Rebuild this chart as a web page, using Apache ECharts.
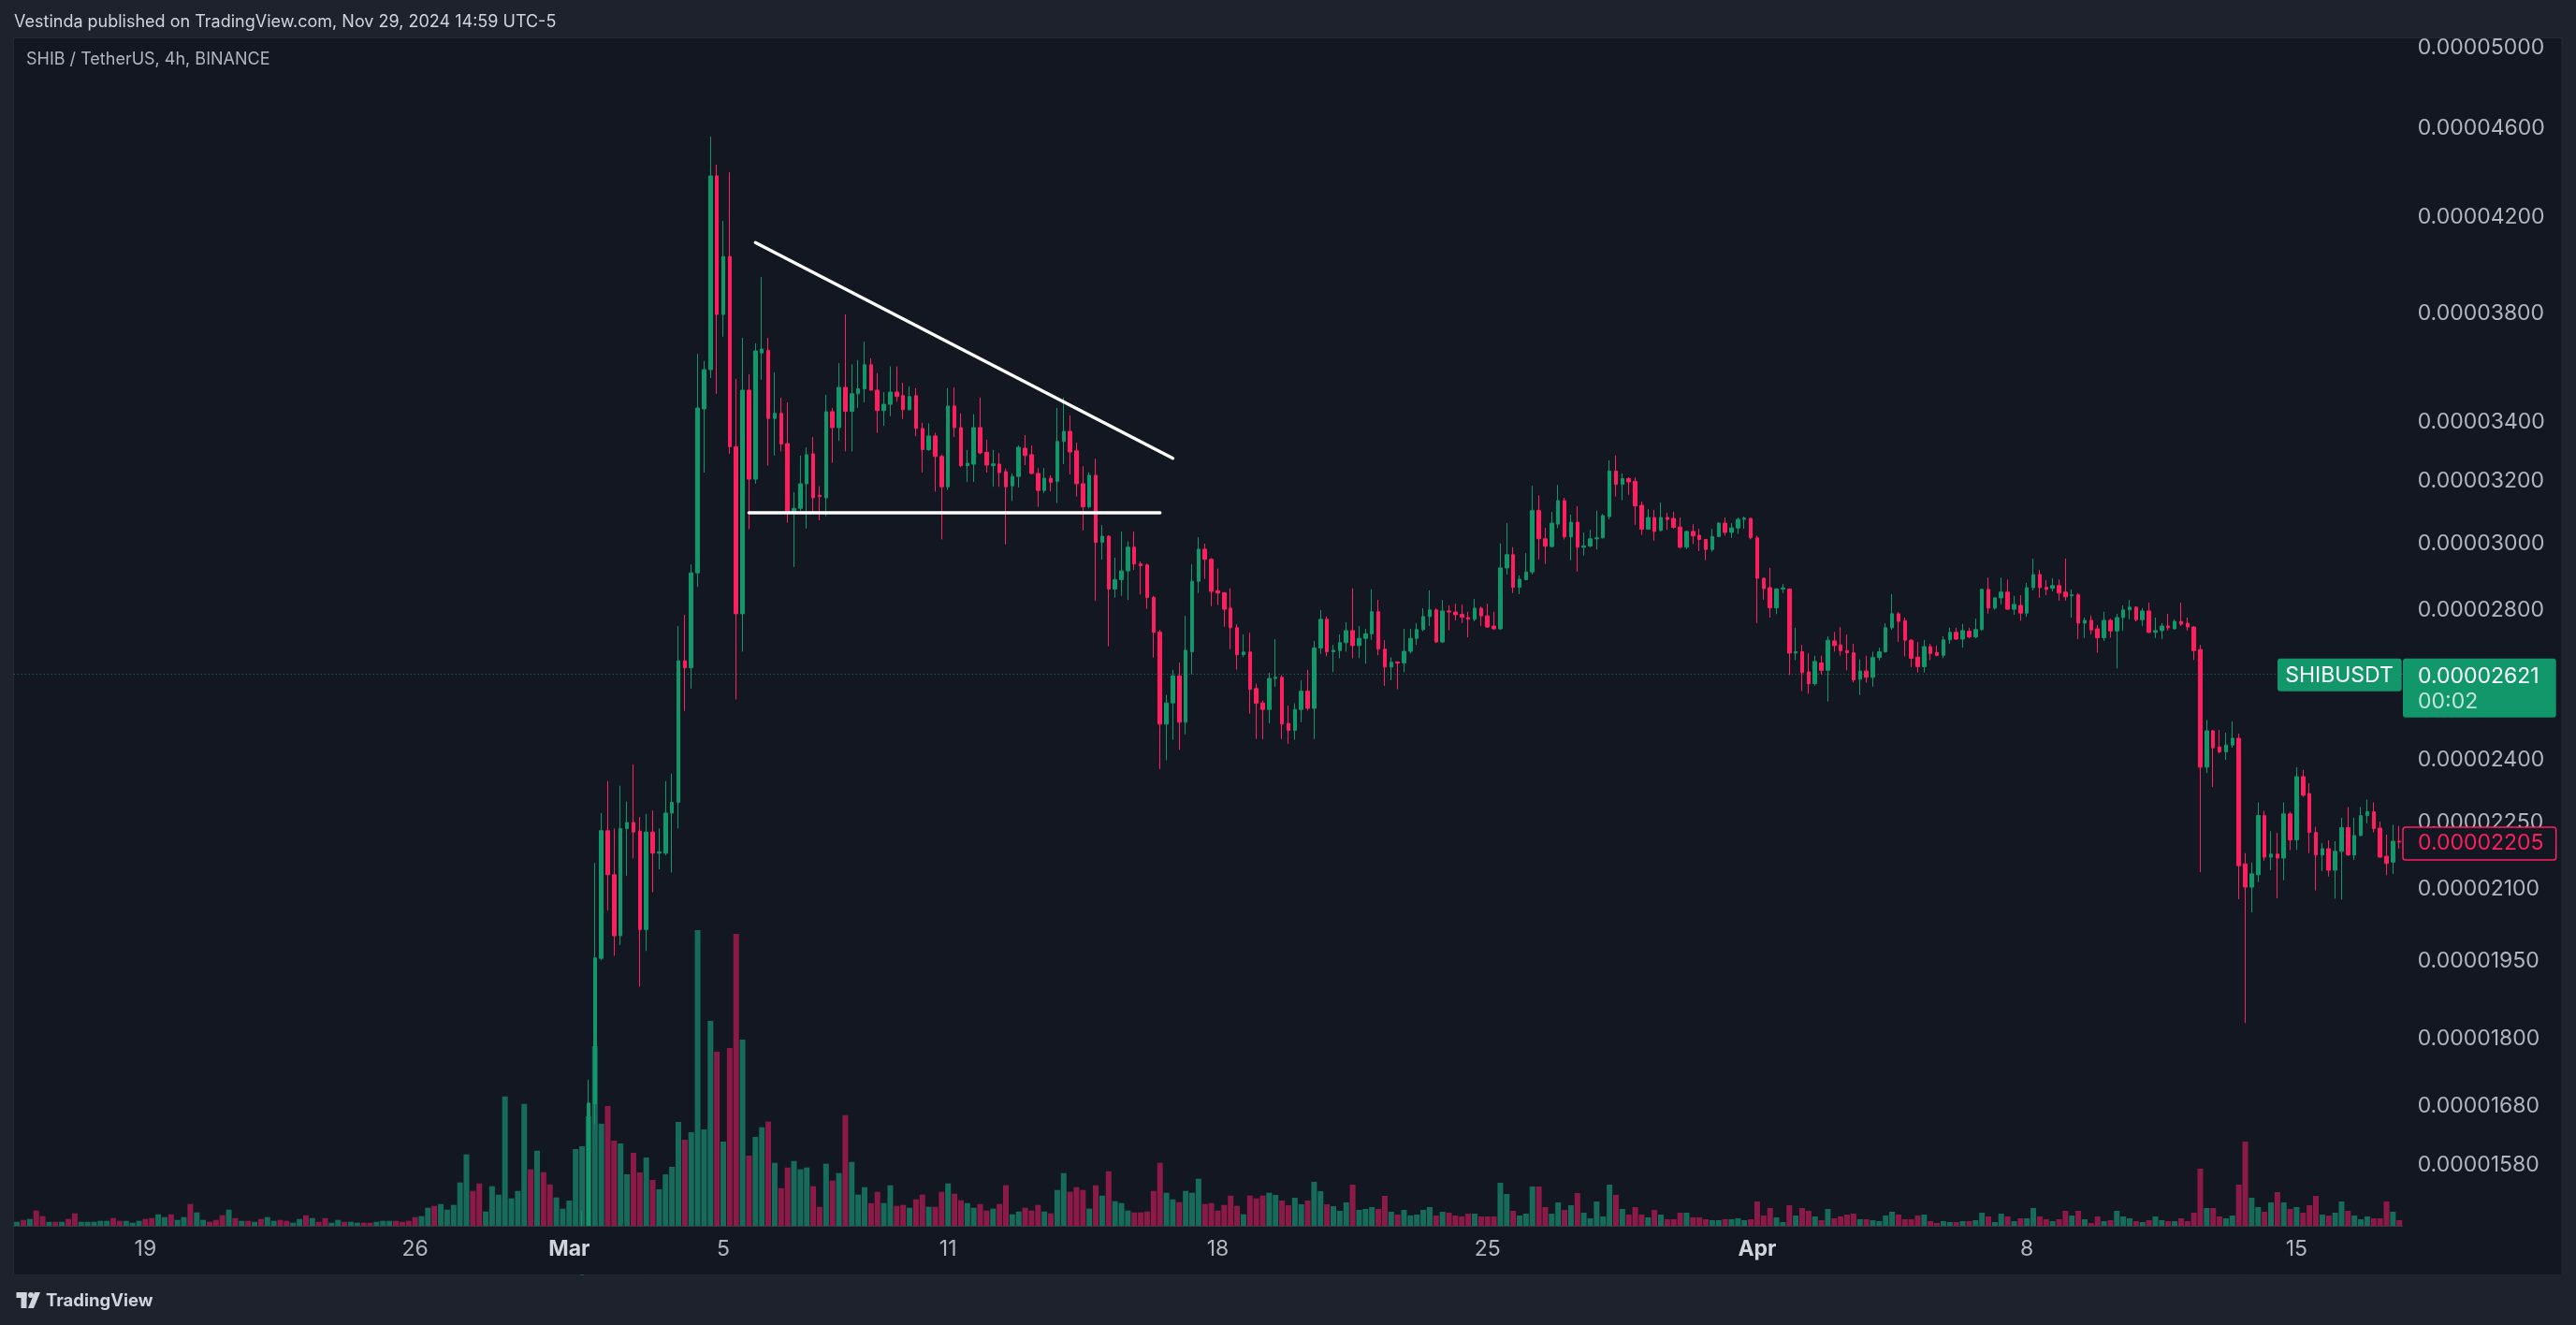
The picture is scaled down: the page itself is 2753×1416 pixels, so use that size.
<!DOCTYPE html>
<html><head><meta charset="utf-8">
<script src="https://cdn.jsdelivr.net/npm/echarts@6/dist/echarts.min.js"></script>
<style>html,body{margin:0;padding:0;background:#1e222d;overflow:hidden}#c{width:2753px;height:1416px}</style>
</head><body><div id="c"></div>
<script>
// Prices are stored in units of 1e-8 USDT (2205 -> 0.00002205). Rows: [open, high, low, close], 4h candles.
const PRICE_UNIT = 1e-8;
// Feb 15 16:00 .. Feb 29 (below the visible price range, only volume shows)
const OHLC_FEB = [
[985,996,980,990],[990,994,981,984],[984,995,982,992],[992,994,968,972],[972,976,961,965],[965,971,962,968],[968,970,960,964],[964,972,962,969],[969,971,959,962],[962,964,944,950],
[950,957,947,955],[955,960,952,958],[958,964,955,962],[962,968,959,966],[966,972,963,970],[970,973,960,963],[963,966,957,960],[960,966,958,964],[964,968,961,966],[966,973,964,970],
[970,972,961,964],[964,966,954,958],[958,979,955,975],[975,986,972,982],[982,984,964,968],[968,975,965,972],[972,983,969,980],[980,982,944,950],[950,965,946,962],[962,968,958,965],
[965,967,959,962],[962,964,954,957],[957,959,940,945],[945,963,943,960],[960,962,949,952],[952,958,950,955],[955,957,948,951],[951,956,949,953],[953,955,943,946],[946,957,944,954],
[954,960,952,957],[957,959,948,951],[951,953,945,948],[948,952,946,950],[950,959,948,956],[956,958,940,944],[944,955,942,952],[952,954,946,949],[949,951,937,941],[941,946,939,944],
[944,952,942,950],[950,952,945,947],[947,953,945,951],[951,955,949,953],[953,955,948,950],[950,952,946,948],[948,954,946,952],[952,957,950,955],[955,960,953,958],[958,960,953,955],
[955,957,950,952],[952,954,947,949],[949,951,936,940],[940,955,938,952],[952,980,950,975],[975,982,958,962],[962,990,960,985],[985,996,980,992],[992,1010,988,1005],[1005,1048,1002,1040],
[1040,1098,1035,1085],[1085,1092,1052,1060],[1060,1068,1025,1035],[1035,1046,1030,1042],[1042,1075,1038,1068],[1068,1086,1060,1080],[1080,1205,1076,1180],[1180,1198,1165,1190],[1190,1225,1182,1215],[1215,1345,1210,1320],
[1320,1330,1245,1260],[1260,1322,1252,1310],[1310,1318,1255,1265],[1265,1272,1228,1240],[1240,1262,1232,1255],[1255,1268,1246,1262]
];
// Mar 1 .. Mar 17
const OHLC_MAR_A = [
[1262,1285,1255,1275],[1275,1340,1270,1330],[1330,1508,1325,1420],[1420,1726,1415,1685],[1684,2158,1649,1957],[1956,2272,1952,2231],[2231,2348,2055,2132],[2132,2236,1961,2002],[2002,2337,1983,2236],[2236,2299,2130,2250],
[2250,2389,2168,2228],[2230,2263,1900,2015],[2015,2270,1971,2228],[2228,2278,2094,2180],[2180,2236,2144,2183],[2180,2348,2175,2272],[2272,2366,2137,2297],[2297,2755,2236,2658],[2658,2787,2524,2639],[2639,2936,2583,2910],
[2910,3647,2868,3449],[3446,3620,3227,3588],[3588,4562,3557,4381],[4381,4432,3500,3798],[3798,4182,3712,4032],[4032,4398,3290,3314],[3314,3554,2554,2790],[2790,3708,2683,3513],[3513,3571,3044,3205],[3205,3687,3190,3658],
[3650,3947,3551,3665],[3660,3708,3250,3412],[3412,3578,3284,3430],[3430,3486,3298,3323],[3325,3469,3064,3096],[3096,3162,2928,3110],[3110,3284,3102,3190],[3190,3312,3046,3287],[3290,3347,3098,3144],[3152,3182,3072,3148],
[3144,3496,3085,3436],[3436,3449,3260,3380],[3380,3612,3334,3523],[3523,3798,3298,3437],[3437,3608,3298,3500],[3500,3624,3449,3518],[3518,3693,3469,3606],[3606,3630,3511,3513],[3513,3575,3362,3440],[3440,3506,3386,3462],
[3462,3600,3420,3506],[3506,3600,3472,3490],[3493,3540,3410,3443],[3443,3527,3440,3490],[3493,3520,3350,3377],[3377,3397,3227,3304],[3304,3395,3300,3351],[3351,3362,3164,3281],[3281,3288,3012,3180],[3180,3520,3170,3456],
[3456,3523,3347,3380],[3380,3430,3245,3250],[3250,3303,3196,3258],[3255,3427,3196,3380],[3380,3486,3288,3293],[3295,3338,3227,3252],[3250,3303,3180,3256],[3255,3292,3180,3227],[3230,3240,2997,3180],[3183,3224,3134,3214],
[3214,3319,3178,3312],[3309,3354,3252,3284],[3287,3319,3221,3224],[3224,3242,3115,3168],[3168,3242,3160,3208],[3208,3218,3165,3195],[3198,3449,3128,3332],[3332,3486,3255,3367],[3367,3423,3221,3296],[3300,3328,3148,3190],
[3190,3248,3040,3115],[3115,3228,3110,3218],[3218,3273,2827,3003],[3003,3057,2950,3022],[3022,3025,2698,2862],[2862,2956,2837,2890],[2890,3037,2842,2916],[2916,3006,2830,2988],[2988,3037,2919,2937],[2937,2945,2846,2932],
[2934,2938,2804,2837],[2837,2842,2667,2737],[2738,2744,2377,2490],[2490,2566,2399,2545],[2545,2633,2450,2617],[2617,2653,2425,2495],[2495,2784,2464,2687],[2683,2936,2621,2885],[2885,3019,2850,2982],[2982,2999,2892,2951],
[2951,2955,2812,2855],[2857,2923,2815,2850]
];
// Mar 18 .. Mar 31
const OHLC_MAR_B = [
[2851,2853,2753,2803],[2806,2864,2690,2750],[2750,2760,2634,2675],[2675,2731,2668,2682],[2682,2736,2517,2581],[2583,2596,2452,2544],[2545,2551,2452,2528],[2528,2625,2492,2610],[2610,2718,2588,2613],[2613,2619,2452,2490],
[2492,2538,2440,2474],[2474,2544,2450,2528],[2528,2605,2495,2576],[2576,2633,2525,2531],[2531,2713,2452,2693],[2693,2801,2677,2774],[2774,2782,2670,2683],[2683,2702,2627,2687],[2686,2731,2665,2708],[2708,2766,2683,2742],
[2742,2864,2665,2700],[2700,2755,2665,2720],[2720,2747,2650,2733],[2733,2861,2716,2796],[2796,2830,2673,2690],[2690,2715,2590,2641],[2641,2667,2605,2654],[2655,2656,2581,2652],[2652,2747,2627,2684],[2684,2747,2678,2720],
[2720,2763,2702,2745],[2745,2806,2740,2782],[2782,2858,2755,2801],[2801,2806,2707,2710],[2710,2830,2707,2798],[2798,2814,2743,2795],[2795,2819,2771,2787],[2788,2817,2763,2780],[2779,2796,2723,2774],[2774,2833,2768,2806],
[2806,2811,2755,2784],[2784,2819,2750,2752],[2755,2796,2744,2747],[2747,3000,2744,2925],[2925,3063,2905,2965],[2965,2988,2850,2867],[2867,2902,2847,2891],[2890,2970,2888,2913],[2913,3183,2905,3103],[3103,3152,2950,3014],
[3014,3048,2937,2991],[2990,3099,2988,3063],[3060,3186,3047,3135],[3135,3144,3012,3020],[3020,3090,2948,3066],[3066,3117,2914,2988],[2988,3034,2962,2992],[2992,3042,2988,3014],[3014,3103,2981,3017],[3017,3092,3015,3087],
[3084,3268,3075,3232],[3232,3284,3148,3188],[3188,3224,3136,3207],[3207,3211,3154,3196],[3198,3211,3058,3118],[3120,3132,3026,3044],[3044,3108,3042,3081],[3081,3105,3008,3037],[3040,3129,3038,3081],[3081,3096,3042,3075],
[3078,3099,3045,3050],[3051,3081,2985,2988],[2988,3040,2982,3037],[3037,3060,2998,3023],[3025,3045,2976,3012],[3012,3014,2948,2981],[2981,3045,2974,3021],[3021,3066,3019,3063],[3063,3081,3024,3034],[3034,3063,3017,3048],
[3048,3081,3029,3075],[3075,3084,3045,3079],[3078,3080,3012,3017]
];
// Apr 1 .. Apr 17
const OHLC_APR = [
[3017,3024,2763,2894],[2894,2896,2831,2863],[2866,2925,2779,2807],[2807,2864,2789,2862],[2862,2877,2850,2865],[2862,2864,2619,2679],[2679,2750,2660,2683],[2683,2702,2576,2626],[2628,2679,2569,2596],[2596,2672,2591,2656],
[2652,2672,2620,2632],[2632,2726,2549,2715],[2713,2738,2683,2700],[2702,2752,2672,2686],[2686,2731,2632,2680],[2680,2705,2599,2606],[2608,2662,2566,2630],[2630,2672,2599,2613],[2613,2683,2588,2667],[2667,2694,2659,2683],
[2683,2763,2680,2750],[2750,2847,2744,2790],[2790,2795,2710,2768],[2770,2779,2670,2715],[2715,2718,2640,2665],[2668,2710,2626,2642],[2642,2716,2626,2697],[2697,2705,2660,2678],[2681,2700,2670,2673],[2673,2726,2665,2716],
[2716,2750,2705,2737],[2737,2750,2716,2718],[2718,2761,2694,2742],[2740,2750,2720,2724],[2724,2776,2720,2745],[2745,2863,2742,2861],[2861,2896,2790,2806],[2806,2838,2802,2836],[2836,2896,2817,2853],[2853,2890,2801,2803],
[2803,2842,2787,2817],[2814,2844,2770,2792],[2792,2880,2781,2866],[2866,2953,2858,2905],[2905,2919,2836,2866],[2867,2888,2844,2861],[2864,2894,2855,2872],[2872,2890,2828,2850],[2853,2953,2828,2839],[2842,2861,2779,2845],
[2845,2850,2718,2763],[2763,2779,2721,2771],[2771,2785,2731,2744],[2747,2758,2680,2722],[2722,2796,2713,2771],[2771,2776,2722,2741],[2741,2790,2637,2779],[2779,2814,2741,2801],[2801,2830,2774,2809],[2809,2811,2768,2773],
[2773,2806,2755,2798],[2798,2822,2734,2737],[2737,2779,2721,2742],[2742,2763,2718,2755],[2755,2790,2742,2750],[2747,2774,2745,2768],[2768,2822,2755,2760],[2763,2779,2742,2752],[2752,2755,2660,2686],[2689,2702,2138,2382],
[2382,2501,2368,2473],[2473,2475,2334,2430],[2432,2475,2416,2420],[2420,2468,2400,2437],[2437,2497,2430,2454],[2454,2466,2079,2152],[2156,2180,1830,2105],[2105,2159,2051,2134],[2132,2297,2116,2266],[2266,2277,2163,2171],
[2171,2230,2142,2178],[2178,2226,2081,2169],[2169,2297,2120,2270],[2270,2275,2187,2210],[2210,2382,2187,2359],[2359,2375,2310,2314],[2318,2343,2180,2227],[2227,2240,2098,2176],[2176,2203,2140,2190],[2190,2209,2128,2142],
[2142,2207,2080,2184],[2184,2261,2078,2238],[2238,2286,2174,2176],[2176,2261,2165,2220],[2220,2286,2218,2266],[2266,2304,2248,2275],[2275,2297,2227,2236],[2237,2252,2171,2171],[2173,2222,2131,2157],[2160,2245,2134,2207],
[2207,2242,2190,2205]
];
// Volume (relative units)
const VOL_FEB = [4.3,6.3,7.3,16.3,10.3,4.3,4.3,4.3,7.3,13.3,4.3,4.3,4.3,5.3,5.3,8.3,5.3,5.3,3.3,5.3,7.3,8.3,12.3,9.3,12.3,6.3,9.3,23.3,14.3,6.3,4.3,6.3,11.3,17.3,8.3,5.3,5.3,4.3,7.3,9.3,5.3,6.3,5.3,3.3,7.3,11.3,8.3,4.3,8.3,3.3,6.3,4.3,4.3,3.3,3.3,3.3,4.3,5.3,5.3,5.3,4.3,5.3,9.3,10.3,19.3,21.3,23.3,17.3,22.3,46.3,76.3,37.3,45.3,15.3,42.3,33.3,138.3,29.3,37.3,130.3,60.3,80.3,57.3,44.3,30.3,18.3];
const VOL_MAR_A = [27,82,85,117,192,109,128,91,88,55,78,57,73,49,39,55,63,111,92,100,316,103,219,186,90,190,312,199,75,95,105.3,111.3,67.3,40.3,62.3,69.3,60.3,62.3,42.3,20.3,66.3,48.3,56.3,118.3,68.3,33.3,41.3,24.3,36.3,24.3,43.3,21.3,22.3,19.3,28.3,33.3,20.3,20.3,36.3,45.3,34.3,27.3,24.3,19.3,23.3,16.3,18.3,23.3,43.3,12.3,15.3,19.3,16.3,22.3,15.3,13.3,38.3,56.3,36.3,41.3,38.3,18.3,43.3,32.3,58.3,26.3,24.3,16.3,14.3,14.3,15.3,37.3,67.3,35.3,28.3,25.3,37.3,35.3,50.3,23.3,24.3,16.3];
const VOL_MAR_B = [22.3,32.3,21.3,12.3,32.3,29.3,32.3,35.3,33,27,22,30,23,27,47,37,23,21,16,25,44,17,18,20,18,32,15,12,17,11,12,17,20,11,15,14,11,10,13,13,10,10,10,46,34,16,11,13,42,42,20,13,25,17,22,35,14,8,26,10,44,33,18,12,20,12,9,17,12,7,7,14,14,9,9,7,6,6,7,7,8,6,7];
const VOL_APR = [26,11,19,9,4,22,11,19,16,10,6,18,8,10,12,13,7,7,6,5,11,15,12,7,7,11,12,5,3,5,4,4,5,5,6,14,10,4,13,10,5,8,8,19,10,7,5,7,16,11,16,7,3,10,5,6,16,10,8,5,4,6,10,6,5,5,8,5,14,61,19,19,10,8,11,44,90,30,20,15,25,36,25,18,20,14,22,32,12,11,14,26,16,11,7,10,8,8,26,15,6];

// x-axis tick labels (candle index -> text)
const TICK_INDEX = [20, 62, 86, 110, 145, 187, 229, 271, 313, 355];
const TICK_TEXT  = ['19', '26', 'Mar', '5', '11', '18', '25', 'Apr', '8', '15'];
const MONTH_TICKS = ['Mar', 'Apr'];
// y-axis tick values (1e-8 units)
const PRICE_TICKS = [5000, 4600, 4200, 3800, 3400, 3200, 3000, 2800, 2400, 2250, 2100, 1950, 1800, 1680, 1580];
// drawings: [candle index, price]
const TREND_UPPER = [[115, 4090], [180, 3275]];
const SUPPORT_LINE = [[114, 3096], [178, 3096]];
const LIVE_PRICE = 2621;
const LIVE_COUNTDOWN = '00:02';
const SYMBOL = 'SHIBUSDT';

// ---------- build ----------
const CANDLES = OHLC_FEB.concat(OHLC_MAR_A, OHLC_MAR_B, OHLC_APR);
const VOLUME = VOL_FEB.concat(VOL_MAR_A, VOL_MAR_B, VOL_APR);
const START = Date.UTC(2024, 1, 15, 21, 0);
const pad = n => (n < 10 ? '0' : '') + n;
const CATS = CANDLES.map((_, i) => {
  const d = new Date(START + i * 4 * 3600 * 1000 - 5 * 3600 * 1000);
  return d.getUTCFullYear() + '-' + pad(d.getUTCMonth() + 1) + '-' + pad(d.getUTCDate()) + ' ' + pad(d.getUTCHours()) + ':00';
});

const UP = '#12976a', DOWN = '#ff1f5f';
const VOL_UP = '#176b5b', VOL_DOWN = '#8b1b46';
const FONT = 'Inter';
const GRID_LEFT = 14.67, GRID_W = 2553, PLOT_BOTTOM = 1310, PRICE_TOP = 41;
const Y_MIN = 1484.8, Y_MAX = 5048;

const chart = echarts.init(document.getElementById('c'), null, {renderer: 'canvas'});
const fmtPrice = v => (v * PRICE_UNIT).toFixed(8);

chart.setOption({
  animation: false,
  backgroundColor: '#1e222d',
  grid: [
    {left: GRID_LEFT, width: GRID_W, top: PRICE_TOP, height: PLOT_BOTTOM - PRICE_TOP},
    {left: GRID_LEFT, width: GRID_W, top: PLOT_BOTTOM - 400, height: 400}
  ],
  xAxis: [
    {type: 'category', gridIndex: 0, data: CATS, show: false, boundaryGap: true},
    {type: 'category', gridIndex: 1, data: CATS, boundaryGap: true, z: 20,
      axisLine: {show: true, lineStyle: {color: '#363a45', width: 1}},
      axisTick: {show: false}, splitLine: {show: false},
      axisLabel: {
        interval: (i) => TICK_INDEX.indexOf(i) >= 0,
        formatter: (v, i) => {
          const k = TICK_INDEX.indexOf(i); if (k < 0) return '';
          const t = TICK_TEXT[k];
          return MONTH_TICKS.indexOf(t) >= 0 ? '{m|' + t + '}' : t;
        },
        color: '#b2b5be', fontSize: 23, fontFamily: FONT, margin: 14, lineHeight: 23,
        rich: {m: {fontWeight: 'bold', color: '#d1d4dc', fontSize: 23, fontFamily: FONT, lineHeight: 23}}
      }}
  ],
  yAxis: [
    {type: 'log', gridIndex: 0, position: 'right', min: Y_MIN, max: Y_MAX, logBase: 10, z: 20,
      axisLine: {show: false}, axisTick: {show: false}, splitLine: {show: false},
      axisLabel: {customValues: PRICE_TICKS, formatter: fmtPrice, color: '#b2b5be', fontSize: 23, fontFamily: FONT, margin: 16}},
    {type: 'value', gridIndex: 1, min: 0, max: 400, show: false}
  ],
  series: [
    {type: 'bar', xAxisIndex: 1, yAxisIndex: 1, barWidth: 6, z: 1, silent: true,
      data: VOLUME.map((v, i) => ({value: v, itemStyle: {color: CANDLES[i][3] >= CANDLES[i][0] ? VOL_UP : VOL_DOWN}}))},
    {type: 'candlestick', xAxisIndex: 0, yAxisIndex: 0, z: 3, clip: true, barWidth: 4, silent: true,
      data: CANDLES.map(r => [r[0], r[3], r[2], r[1]]),
      itemStyle: {color: UP, color0: DOWN, borderColor: UP, borderColor0: DOWN, borderWidth: 1},
      markLine: {silent: true, symbol: ['none', 'none'], label: {show: false},
        lineStyle: {color: '#17946a', width: 1, type: [1, 3], opacity: 0.9},
        data: [{yAxis: LIVE_PRICE}]}},
    {type: 'line', xAxisIndex: 0, yAxisIndex: 0, data: TREND_UPPER, symbol: 'none', z: 5, silent: true,
      lineStyle: {color: '#ffffff', width: 3.5, cap: 'round'}},
    {type: 'line', xAxisIndex: 0, yAxisIndex: 0, data: SUPPORT_LINE, symbol: 'none', z: 5, silent: true,
      lineStyle: {color: '#ffffff', width: 3.5, cap: 'round'}}
  ]
});

const yLive = chart.convertToPixel({yAxisIndex: 0}, LIVE_PRICE);
const lastClose = CANDLES[CANDLES.length - 1][3];
const yLast = chart.convertToPixel({yAxisIndex: 0}, lastClose);
const AX_X = 2568, AX_W = 163.7, LAB_X = 2584;

chart.setOption({
  graphic: [
    {type: 'rect', z: -10, silent: true, shape: {x: 14.5, y: 40.5, width: 2723.5, height: 1322}, style: {fill: '#131722', stroke: '#262a35', lineWidth: 1}},
    // masks so candles that start below the price range stay inside the plot
    {type: 'rect', z: 8, silent: true, shape: {x: 15, y: 1310.5, width: 2553, height: 51.5}, style: {fill: '#131722'}},
    {type: 'rect', z: 8, silent: true, shape: {x: 0, y: 1362.5, width: 2753, height: 54}, style: {fill: '#1e222d'}},
    {type: 'text', z: 10, silent: true, style: {x: 15, y: 24, text: 'Vestinda published on TradingView.com, Nov 29, 2024 14:59 UTC-5', fill: '#d1d4dc', font: '18px Inter', verticalAlign: 'middle'}},
    {type: 'text', z: 10, silent: true, style: {x: 28, y: 64, text: 'SHIB / TetherUS, 4h, BINANCE', fill: '#b2b5be', font: '18px Inter', verticalAlign: 'middle'}},
    // symbol + live price tags
    {type: 'rect', z: 100, silent: true, shape: {x: 2434, y: yLive - 17, width: 132.7, height: 35, r: 3}, style: {fill: UP}},
    {type: 'text', z: 101, silent: true, style: {x: 2500, y: yLive + 1, text: SYMBOL, fill: '#ffffff', font: '23px Inter', align: 'center', verticalAlign: 'middle'}},
    {type: 'rect', z: 100, silent: true, shape: {x: AX_X, y: yLive - 17, width: AX_W, height: 63, r: 3}, style: {fill: UP}},
    {type: 'text', z: 101, silent: true, style: {x: LAB_X, y: yLive + 2, text: fmtPrice(LIVE_PRICE), fill: '#ffffff', font: '23px Inter', verticalAlign: 'middle'}},
    {type: 'text', z: 101, silent: true, style: {x: LAB_X, y: yLive + 29, text: LIVE_COUNTDOWN, fill: 'rgba(255,255,255,0.75)', font: '23px Inter', verticalAlign: 'middle'}},
    // last close tag
    {type: 'rect', z: 100, silent: true, shape: {x: AX_X, y: yLast - 16, width: AX_W, height: 35, r: 3}, style: {fill: '#131722', stroke: DOWN, lineWidth: 1.5}},
    {type: 'text', z: 101, silent: true, style: {x: LAB_X, y: yLast + 1.5, text: fmtPrice(lastClose), fill: DOWN, font: '23px Inter', verticalAlign: 'middle'}},
    // footer logo
    {type: 'rect', z: 10, silent: true, shape: {x: 17.5, y: 1381, width: 11, height: 6}, style: {fill: '#d1d4dc'}},
    {type: 'rect', z: 10, silent: true, shape: {x: 22.5, y: 1381, width: 6, height: 17}, style: {fill: '#d1d4dc'}},
    {type: 'circle', z: 10, silent: true, shape: {cx: 33, cy: 1384, r: 3}, style: {fill: '#d1d4dc'}},
    {type: 'polygon', z: 10, silent: true, shape: {points: [[30, 1398], [37, 1381], [43, 1381], [36, 1398]]}, style: {fill: '#d1d4dc'}},
    {type: 'text', z: 10, silent: true, style: {x: 49, y: 1390, text: 'TradingView', fill: '#d1d4dc', font: 'bold 18.5px Inter', verticalAlign: 'middle'}}
  ]
});
</script>
</body></html>
